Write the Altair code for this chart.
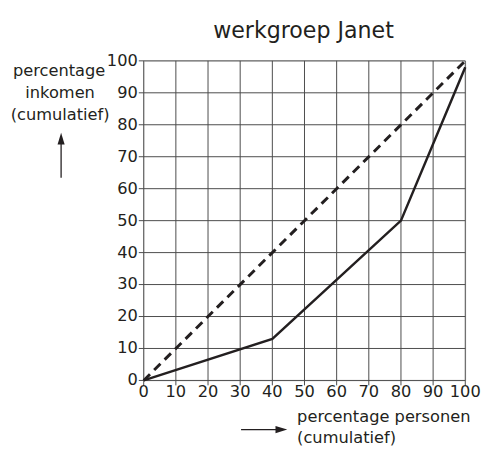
import altair as alt
import pandas as pd

# Data
personen = [0, 40, 80, 100]
inkomen = [0, 13, 50, 98]
gelijk_x = [0, 100]
gelijk_y = [0, 100]
ticks = [0, 10, 20, 30, 40, 50, 60, 70, 80, 90, 100]
tick_labels = [str(t) for t in ticks]

W, H = 327, 325
FONT = "DejaVu Sans"
INK = "#231f20"
GRID = "#4a4a4a"
FS = 16.5

lorenz = pd.DataFrame({"x": personen, "y": inkomen})
diag = pd.DataFrame({"x": gelijk_x, "y": gelijk_y})
tk = pd.DataFrame({"t": ticks, "lab": tick_labels})

xs = alt.Scale(domain=[0, 100], nice=False, zero=False)
ys = alt.Scale(domain=[0, 100], nice=False, zero=False)

vgrid = alt.Chart(tk).mark_rule(color=GRID, strokeWidth=1).encode(
    x=alt.X("t:Q", scale=xs, axis=None), y=alt.value(0), y2=alt.value(H + 5))
hgrid = alt.Chart(tk).mark_rule(color=GRID, strokeWidth=1).encode(
    y=alt.Y("t:Q", scale=ys, axis=None), x=alt.value(-5), x2=alt.value(W))
xlab = alt.Chart(tk).mark_text(font=FONT, fontSize=FS, color=INK, baseline="top").encode(
    x=alt.X("t:Q", scale=xs, axis=None), y=alt.value(H + 4), text="lab:N")
ylab = alt.Chart(tk).mark_text(font=FONT, fontSize=FS, color=INK, align="right",
                               baseline="middle").encode(
    y=alt.Y("t:Q", scale=ys, axis=None), x=alt.value(-6), text="lab:N")

base_diag = alt.Chart(diag).mark_line(color=INK, strokeWidth=3, strokeDash=[9, 6]).encode(
    x=alt.X("x:Q", scale=xs, axis=None),
    y=alt.Y("y:Q", scale=ys, axis=None),
)
line = alt.Chart(lorenz).mark_line(color=INK, strokeWidth=2.5).encode(
    x=alt.X("x:Q", scale=xs, axis=None),
    y=alt.Y("y:Q", scale=ys, axis=None),
)

def txt(s, x, y, align="center", size=FS, font=FONT, baseline="middle"):
    return alt.Chart(pd.DataFrame({"t": [s]})).mark_text(
        font=font, fontSize=size, color=INK, align=align, baseline=baseline
    ).encode(text="t:N", x=alt.value(x), y=alt.value(y))

labels = [
    txt("werkgroep Janet", W / 2 - 1, -23, size=22.5, baseline="alphabetic"),
    txt("percentage", -86, 10),
    txt("inkomen", -85, 33),
    txt("(cumulatief)", -85, 55),
    txt("percentage personen", 156, 362, align="left"),
    txt("(cumulatief)", 156, 384, align="left"),
]

arrow_up = alt.Chart(pd.DataFrame({"a": [0]})).mark_rule(color=INK, strokeWidth=1.3).encode(
    x=alt.value(-84), y=alt.value(83), y2=alt.value(119))
head_up = alt.Chart(pd.DataFrame({"a": [1]})).mark_point(filled=True, opacity=1, strokeWidth=0).encode(
    x=alt.value(-84), y=alt.value(79), shape=alt.value("M0,-1 L0.6,1 L-0.6,1 Z"),
    size=alt.value(144), color=alt.value(INK))
arrow_r = alt.Chart(pd.DataFrame({"a": [0]})).mark_rule(color=INK, strokeWidth=1.3).encode(
    x=alt.value(99), x2=alt.value(136), y=alt.value(375))
head_r = alt.Chart(pd.DataFrame({"a": [2]})).mark_point(filled=True, opacity=1, strokeWidth=0).encode(
    x=alt.value(140), y=alt.value(375), shape=alt.value("M1,0 L-1,0.6 L-1,-0.6 Z"),
    size=alt.value(144), color=alt.value(INK))

chart = alt.layer(vgrid, hgrid, xlab, ylab, base_diag, line, *labels,
                  arrow_up, head_up, arrow_r, head_r).properties(
    width=W, height=H,
    autosize=alt.AutoSizeParams(type="none"),
    padding={"left": 138, "top": 50, "right": 16, "bottom": 67},
).configure_view(stroke=None).configure(background="white")

chart.save("out.html", embed_options={"renderer": "svg", "actions": False})
